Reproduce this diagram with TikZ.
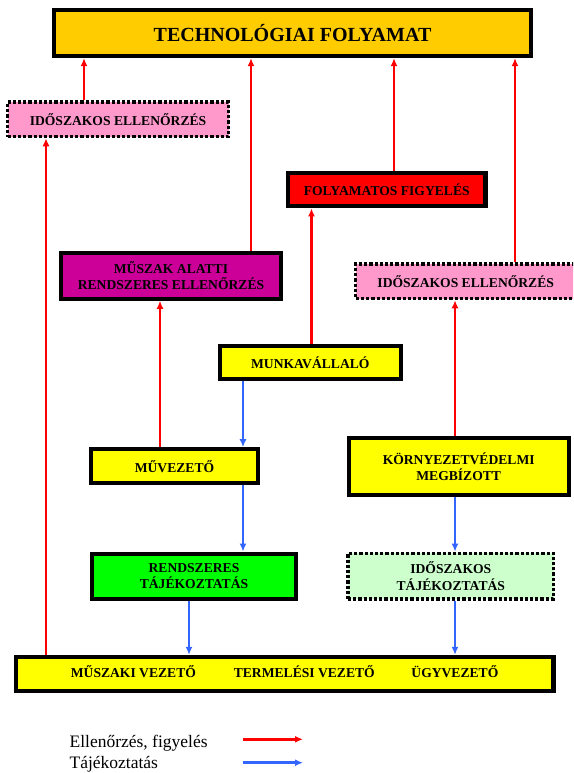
\documentclass[tikz,border=0pt]{standalone}
\usepackage{fontspec}
\setmainfont{Liberation Serif}
\usetikzlibrary{arrows.meta}

\definecolor{goldbox}{HTML}{FFCC00}
\definecolor{pinkbox}{HTML}{FF99CC}
\definecolor{redbox}{HTML}{FF0000}
\definecolor{magentabox}{HTML}{CC0099}
\definecolor{yellowbox}{HTML}{FFFF00}
\definecolor{greenbox}{HTML}{00FF00}
\definecolor{palegreenbox}{HTML}{CCFFCC}
\definecolor{ctlred}{HTML}{FF0000}
\definecolor{infblue}{HTML}{3366FF}

\begin{document}
\begin{tikzpicture}[x=1pt,y=-1pt,
  boxtext/.style={font=\bfseries\fontsize{13.6}{16.5}\selectfont, align=center, text=black},
  solidbox/.style={boxtext, draw=black, line width=4.2pt, inner sep=0pt},
  dotbox/.style={boxtext, draw=black, line width=3.4pt, dash pattern=on 3.2pt off 2pt, inner sep=0pt},
  ctl/.style={draw=ctlred, line width=2.5pt, -{Latex[length=8pt,width=7pt]}},
  inf/.style={draw=infblue, line width=2.5pt, -{Latex[length=8pt,width=7pt]}},
  legendtext/.style={font=\fontsize{17.5}{20}\selectfont, anchor=base west, inner sep=0pt}]

\path[use as bounding box] (0,0) rectangle (573,773);
\clip (0,0) rectangle (573,773);

% boxes
\node[solidbox, fill=goldbox, minimum width=477pt, minimum height=46pt,
      font=\bfseries\fontsize{20}{24}\selectfont] (top) at (292.5,33) {TECHNOLÓGIAI FOLYAMAT};
\node[dotbox, fill=pinkbox, minimum width=221pt, minimum height=34.5pt] (idL) at (118,119.3) {IDŐSZAKOS ELLENŐRZÉS};
\node[solidbox, fill=redbox, minimum width=197.5pt, minimum height=33.6pt] (foly) at (386.7,189.5) {FOLYAMATOS FIGYELÉS};
\node[solidbox, fill=magentabox, minimum width=220pt, minimum height=46pt] (musz) at (171,275.7) {MŰSZAK ALATTI\\RENDSZERES ELLENŐRZÉS};
\node[dotbox, fill=pinkbox, minimum width=220pt, minimum height=34.5pt] (idR) at (465.7,281.3) {IDŐSZAKOS ELLENŐRZÉS};
\node[solidbox, fill=yellowbox, minimum width=181.3pt, minimum height=33pt] (munk) at (310.3,362.5) {MUNKAVÁLLALÓ};
\node[solidbox, fill=yellowbox, minimum width=167pt, minimum height=34pt] (muv) at (174.5,466.3) {MŰVEZETŐ};
\node[solidbox, fill=yellowbox, minimum width=220pt, minimum height=57pt] (korny) at (458.7,466.5) {KÖRNYEZETVÉDELMI\\MEGBÍZOTT};
\node[solidbox, fill=greenbox, minimum width=204pt, minimum height=45pt] (rtaj) at (194,576.2) {RENDSZERES\\TÁJÉKOZTATÁS};
\node[dotbox, fill=palegreenbox, minimum width=205.5pt, minimum height=45.5pt] (itaj) at (450.8,576.1) {IDŐSZAKOS\\TÁJÉKOZTATÁS};
\node[solidbox, fill=yellowbox, minimum width=537.4pt, minimum height=33.7pt] (bot) at (284.7,673.8) {};
\node[boxtext] (mv) at (133.4,671.7) {MŰSZAKI VEZETŐ};
\node[boxtext] (tv) at (304.3,671.7) {TERMELÉSI VEZETŐ};
\node[boxtext] (ugy) at (454.9,671.7) {ÜGYVEZETŐ};

% connector columns
\coordinate (c46) at (46,0);
\coordinate (c84) at (84,0);
\coordinate (c160) at (160,0);
\coordinate (c189) at (189,0);
\coordinate (c243) at (243,0);
\coordinate (c251) at (251,0);
\coordinate (c311) at (311.5,0);
\coordinate (c394) at (394,0);
\coordinate (c455) at (455,0);
\coordinate (c515) at (515,0);

% monitoring (red)
\draw[ctl] (idL.north -| c84) -- (top.south -| c84);
\draw[ctl] (musz.north -| c251) -- (top.south -| c251);
\draw[ctl] (foly.north -| c394) -- (top.south -| c394);
\draw[ctl] (idR.north -| c515) -- (top.south -| c515);
\draw[ctl] (bot.north -| c46) -- (idL.south -| c46);
\draw[ctl] (muv.north -| c160) -- (musz.south -| c160);
\draw[ctl] (munk.north -| c311) -- (foly.south -| c311);
\draw[ctl] (korny.north -| c455) -- (idR.south -| c455);

% information (blue)
\draw[inf] (munk.south -| c243) -- (muv.north -| c243);
\draw[inf] (muv.south -| c243) -- (rtaj.north -| c243);
\draw[inf] (rtaj.south -| c189) -- (bot.north -| c189);
\draw[inf] (korny.south -| c455) -- (itaj.north -| c455);
\draw[inf] (itaj.south -| c455) -- (bot.north -| c455);

% legend
\node[legendtext] (lg1) at (69.4,747.7) {Ellenőrzés, figyelés};
\node[legendtext] (lg2) at (69.4,768.3) {Tájékoztatás};
\coordinate (lr1) at (243,739.3);
\coordinate (lr2) at (303,739.3);
\coordinate (lb1) at (243,762.7);
\coordinate (lb2) at (303,762.7);
\draw[ctl] (lr1) -- (lr2);
\draw[inf] (lb1) -- (lb2);
\end{tikzpicture}
\end{document}
